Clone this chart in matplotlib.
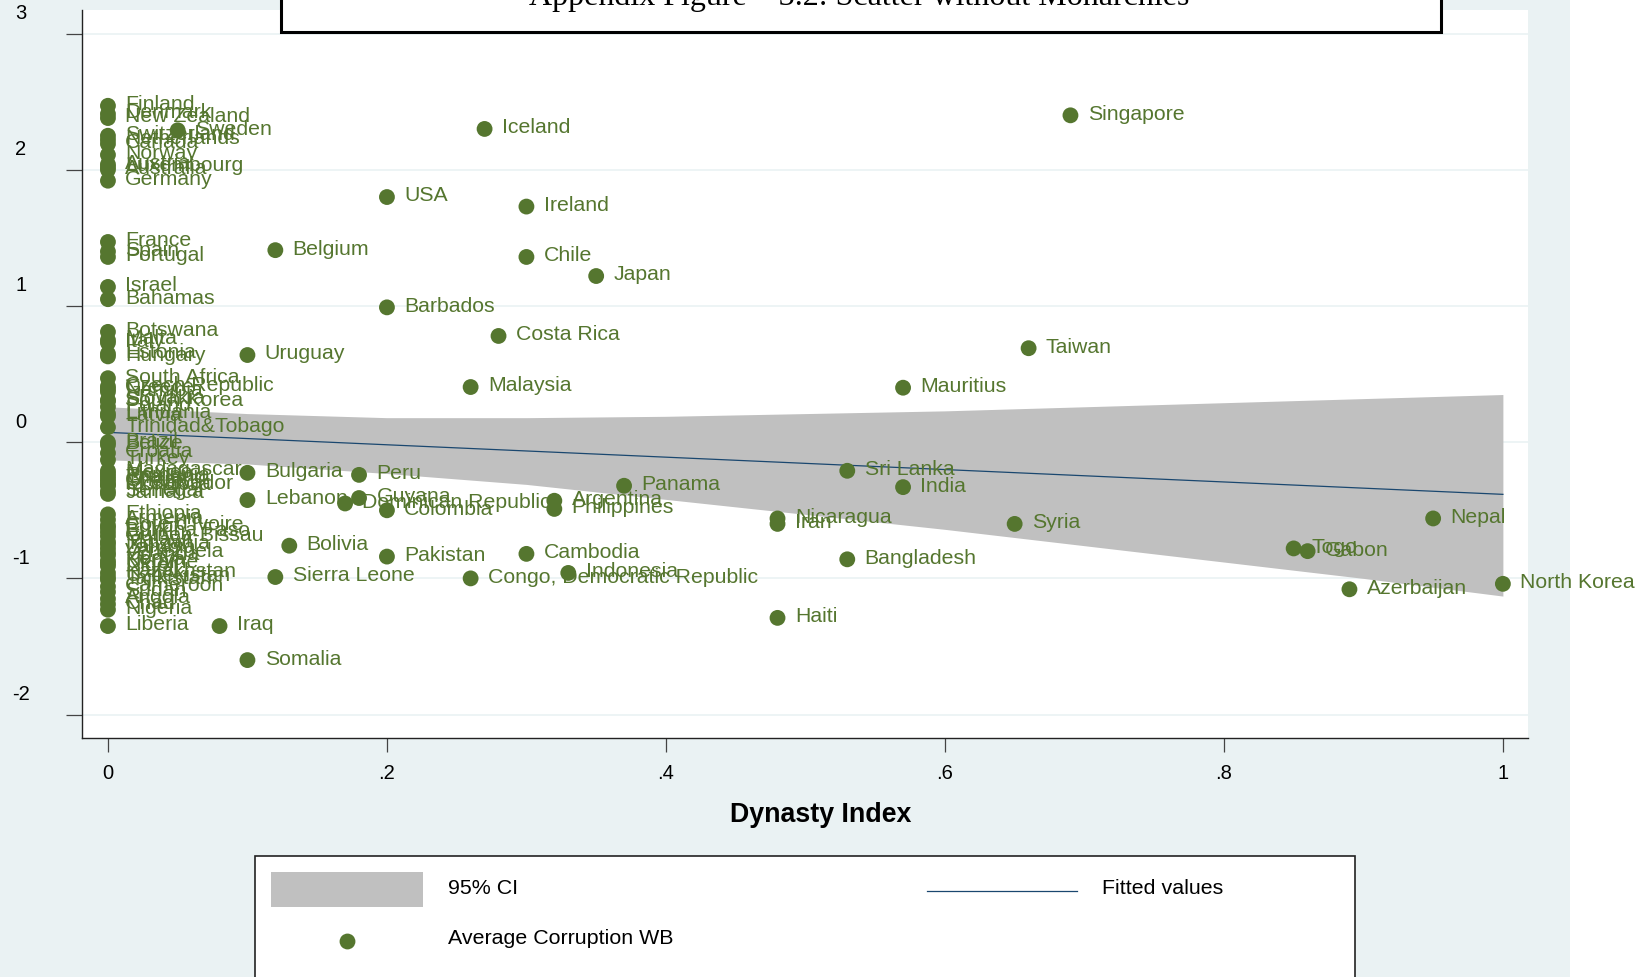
import matplotlib
matplotlib.use("Agg")
import matplotlib.pyplot as plt
from matplotlib import transforms
from matplotlib.patches import Rectangle

# ---- data: dynasty index vs. average WB corruption score ----
countries = [
    # dynasty index == 0
    "Finland", "Denmark", "New Zealand", "Switzerland", "Netherlands", "Canada",
    "Norway", "Austria", "Luxembourg", "Australia", "Germany",
    "France", "Spain", "Portugal", "Israel", "Bahamas",
    "Botswana", "Malta", "Italy", "Estonia", "Hungary",
    "South Africa", "Czech Republic", "Greece", "Namibia", "Slovakia",
    "South Korea", "Poland", "Lithuania", "Latvia", "Trinidad&Tobago",
    "Brazil", "Belize", "Croatia", "Turkey", "Madagascar", "Mexico",
    "Romania", "Thailand", "Ghana", "El Salvador", "Mongolia", "Senegal",
    "Jamaica",
    "Ethiopia", "Armenia", "Cote d'Ivoire", "Egypt", "Burkina Faso",
    "Guinea-Bissau", "Malawi", "Tanzania", "Zambia", "Venezuela", "Uganda",
    "Kenya", "Ukraine", "Niger", "Kazakhstan", "Uzbekistan", "Tajikistan",
    "Cameroon", "Sudan", "Angola", "Chad", "Nigeria", "Liberia",
    # dynasty index > 0
    "Sweden", "Iceland", "Singapore", "USA", "Ireland", "Belgium", "Chile",
    "Japan", "Barbados", "Costa Rica", "Uruguay", "Taiwan", "Malaysia",
    "Mauritius", "Bulgaria", "Peru", "Sri Lanka", "Panama", "India",
    "Lebanon", "Guyana", "Dominican Republic", "Colombia", "Argentina",
    "Philippines", "Nicaragua", "Iran", "Syria", "Nepal", "Togo", "Gabon",
    "Bolivia", "Pakistan", "Cambodia", "Bangladesh", "Sierra Leone",
    "Congo, Democratic Republic", "Indonesia", "Azerbaijan", "North Korea",
    "Haiti", "Iraq", "Somalia",
]

dynasty = [0.0] * 67 + [
    0.05, 0.27, 0.69, 0.20, 0.30, 0.12, 0.30,
    0.35, 0.20, 0.28, 0.10, 0.66, 0.26,
    0.57, 0.10, 0.18, 0.53, 0.37, 0.57,
    0.10, 0.18, 0.17, 0.20, 0.32,
    0.32, 0.48, 0.48, 0.65, 0.95, 0.85, 0.86,
    0.13, 0.20, 0.30, 0.53, 0.12,
    0.26, 0.33, 0.89, 1.00,
    0.48, 0.08, 0.10,
]

corruption = [
    2.47, 2.41, 2.38, 2.25, 2.22, 2.19,
    2.11, 2.04, 2.02, 2.00, 1.92,
    1.47, 1.40, 1.36, 1.14, 1.05,
    0.81, 0.75, 0.73, 0.65, 0.63,
    0.47, 0.41, 0.39, 0.37, 0.31,
    0.30, 0.26, 0.21, 0.19, 0.11,
    0.00, -0.02, -0.08, -0.13, -0.21, -0.23,
    -0.25, -0.27, -0.29, -0.31, -0.32, -0.36,
    -0.38,
    -0.53, -0.57, -0.61, -0.63, -0.66,
    -0.69, -0.73, -0.75, -0.78, -0.81, -0.83,
    -0.87, -0.89, -0.91, -0.96, -0.99, -1.01,
    -1.06, -1.10, -1.15, -1.19, -1.23, -1.35,
    2.29, 2.30, 2.40, 1.80, 1.73, 1.41, 1.36,
    1.22, 0.99, 0.78, 0.64, 0.69, 0.405,
    0.40, -0.225, -0.24, -0.21, -0.32, -0.33,
    -0.425, -0.41, -0.45, -0.50, -0.43,
    -0.49, -0.56, -0.60, -0.60, -0.56, -0.78, -0.80,
    -0.76, -0.84, -0.82, -0.86, -0.99,
    -1.00, -0.96, -1.08, -1.04,
    -1.29, -1.35, -1.60,
]

# linear fit and its 95% confidence band
fit_x = [0.0, 1.0]
fit_y = [0.072, -0.383]
ci_x = [0.0, 0.1, 0.2, 0.3, 0.4, 0.5, 0.6, 0.7, 0.8, 0.9, 1.0]
ci_lo = [-0.13, -0.16, -0.23, -0.31, -0.42, -0.53, -0.64, -0.76, -0.88, -1.00, -1.13]
ci_hi = [0.26, 0.21, 0.18, 0.18, 0.19, 0.21, 0.23, 0.26, 0.29, 0.32, 0.35]

x_ticks = [0, 0.2, 0.4, 0.6, 0.8, 1.0]
x_ticklabels = ["0", ".2", ".4", ".6", ".8", "1"]
y_ticks = [-2, -1, 0, 1, 2, 3]

title = "Appendix Figure \u2013 3.2: Scatter without Monarchies"

# ---- styling ----
W, H = 1643, 978
GREEN = "#55762f"
NAVY = "#1a476f"
BAND = "#c0c0c0"
BG = "#eaf2f3"
plt.rcParams["font.family"] = ["Liberation Sans", "DejaVu Sans"]
plt.rcParams["axes.unicode_minus"] = False


def px_box(x0, y0, x1, y1):
    # pixel box (origin top-left) -> figure fraction rect
    return [x0 / W, 1 - y1 / H, (x1 - x0) / W, (y1 - y0) / H]


fig = plt.figure(figsize=(W / 100, H / 100), dpi=100)
fig.patch.set_facecolor("white")

# graph region background
bg = fig.add_axes([0, 0, 1, 1], zorder=0)
bg.set_xlim(0, W)
bg.set_ylim(H, 0)
bg.axis("off")
bg.add_patch(Rectangle((0, 0), 1570, H, facecolor=BG, edgecolor="none"))

# plot region
ax = fig.add_axes(px_box(82, 10.5, 1528, 739), zorder=1)
ax.set_facecolor("white")
ax.set_xlim(-0.0186, 1.018)
ax.set_ylim(-2.172, 3.177)

ax.fill_between(ci_x, ci_lo, ci_hi, color=BAND, linewidth=0, zorder=1)
ax.plot(fit_x, fit_y, color=NAVY, linewidth=0.9, zorder=2)
ax.scatter(dynasty, corruption, s=130, color=GREEN, edgecolors="none", zorder=3)
for name, x, y in zip(countries, dynasty, corruption):
    ax.annotate(name, (x, y), xytext=(12.5, 1.5), textcoords="offset points",
                va="center", ha="left", fontsize=15.3, color=GREEN,
                zorder=4, annotation_clip=False)

ax.set_yticks(y_ticks)
ax.set_xticks(x_ticks)
ax.set_xticklabels(x_ticklabels)
ax.grid(axis="y", color=BG, linewidth=1.2, zorder=0)
ax.set_axisbelow(True)
for side in ("top", "right"):
    ax.spines[side].set_visible(False)
for side in ("left", "bottom"):
    ax.spines[side].set_color("#222222")
    ax.spines[side].set_linewidth(1.0)

ax.tick_params(axis="y", length=11.3, width=0.9, color="#444444",
               labelsize=14.5, pad=32.6)
ax.tick_params(axis="x", length=10, width=0.9, color="#444444",
               labelsize=14.5, pad=8)
# y labels sit centred and a little above their ticks
shift = transforms.ScaledTranslation(0, 23 / 100, fig.dpi_scale_trans)
for lab in ax.get_yticklabels():
    lab.set_horizontalalignment("center")
    lab.set_transform(lab.get_transform() + shift)

ax.set_xlabel("Dynasty Index", fontsize=19.3, fontweight="bold", va="center")
ax.xaxis.set_label_coords((821 - 82) / (1528 - 82), -(815 - 739) / (739 - 10.5))

# title box and legend drawn over everything
top = fig.add_axes([0, 0, 1, 1], zorder=2)
top.set_xlim(0, W)
top.set_ylim(H, 0)
top.axis("off")

top.add_patch(Rectangle((281, -10), 1160, 42.5, facecolor="white",
                        edgecolor="black", linewidth=2.2))
top.text(859, 5, title, ha="center", va="baseline", fontsize=23,
         family=["Liberation Serif", "DejaVu Serif"], color="black", clip_on=True)

top.add_patch(Rectangle((255, 857), 1100, 122, facecolor="white",
                        edgecolor="#222222", linewidth=1.2))
top.add_patch(Rectangle((271, 873), 152, 35, facecolor=BAND, edgecolor="none"))
top.text(448, 888, "95% CI", ha="left", va="center", fontsize=15.4)
top.plot([927, 1077], [892, 892], color=NAVY, linewidth=0.9)
top.text(1102, 888, "Fitted values", ha="left", va="center", fontsize=15.4)
top.plot([347], [942], "o", color=GREEN, markersize=11.4, markeredgewidth=0)
top.text(448, 938, "Average Corruption WB", ha="left", va="center", fontsize=15.4)

fig.savefig("out.png", dpi=100)
